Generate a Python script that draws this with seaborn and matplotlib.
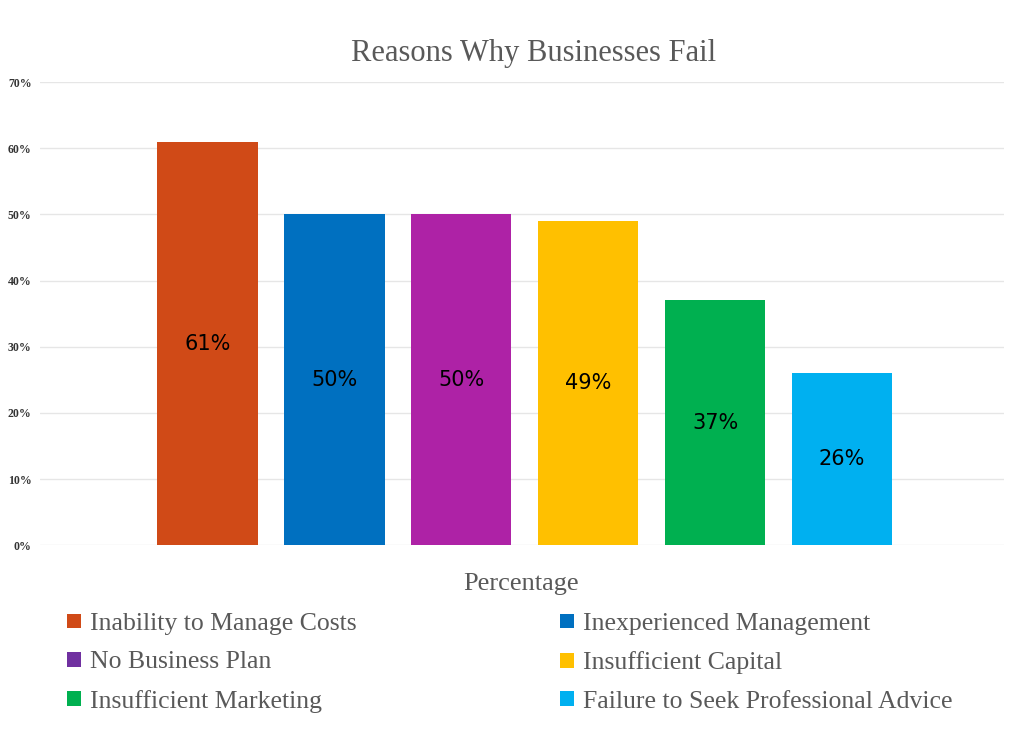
import matplotlib
matplotlib.use("Agg")
import matplotlib.pyplot as plt
import seaborn as sns
import pandas as pd
from matplotlib.patches import Patch

categories = ["Inability to Manage Costs", "Inexperienced Management", "No Business Plan",
              "Insufficient Capital", "Insufficient Marketing", "Failure to Seek Professional Advice"]
values = [61, 50, 50, 49, 37, 26]
group = ["Percentage"] * len(categories)
bar_colors = ["#D04A17", "#0070C0", "#AE22A6", "#FFC000", "#00B050", "#00B0F0"]
legend_colors = ["#D04A17", "#0070C0", "#7030A0", "#FFC000", "#00B050", "#00B0F0"]
yticks = [0, 10, 20, 30, 40, 50, 60, 70]

df = pd.DataFrame({"group": group, "reason": categories, "value": values})

sns.set_theme(style="white")
plt.rcParams["font.family"] = ["Liberation Serif", "DejaVu Serif"]

fig = plt.figure(figsize=(10.24, 7.33), dpi=100)
ax = fig.add_axes([0.039, 0.256, 0.941, 0.632])

sns.barplot(data=df, x="group", y="value", hue="reason", hue_order=categories,
            palette=bar_colors, saturation=1, width=0.8, gap=0.21, ax=ax, legend=False,
            edgecolor="none", linewidth=0)

for cont in ax.containers:
    ax.bar_label(cont, labels=[f"{v:.0f}%" for v in cont.datavalues], label_type="center",
                 fontsize=15, color="black", family="DejaVu Sans")

ax.set_ylim(0, 70)
ax.set_xlim(-0.5093, 0.5029)
ax.set_yticks(yticks)
ax.set_yticklabels([f"{t}%" for t in yticks], fontsize=8.5, fontweight="bold", color="#333333")
ax.tick_params(axis="y", length=0, pad=6)
ax.set_xticks([])
ax.set_xlabel("")
ax.set_ylabel("")
ax.yaxis.grid(True, color="#E6E6E6", linewidth=1)
ax.set_axisbelow(True)
for s in ax.spines.values():
    s.set_visible(False)

fig.text(0.521, 0.927, "Reasons Why Businesses Fail", ha="center", va="center",
         fontsize=22, color="#595959")
fig.text(0.509, 0.203, "Percentage", ha="center", va="center", fontsize=19, color="#595959")

# row-major order like the reference (matplotlib fills columns first)
order = [0, 2, 4, 1, 3, 5]
handles = [Patch(facecolor=legend_colors[i], edgecolor="none") for i in order]
labels = [categories[i] for i in order]
leg = fig.legend(handles, labels, loc="upper left", bbox_to_anchor=(0.048, 0.188),
                 ncol=2, frameon=False, fontsize=18.5, labelcolor="#595959",
                 handlelength=0.55, handleheight=0.5, handletextpad=0.35,
                 columnspacing=7.9, labelspacing=0.63, borderpad=0.2)

fig.savefig("out.png", dpi=100, facecolor="white")
